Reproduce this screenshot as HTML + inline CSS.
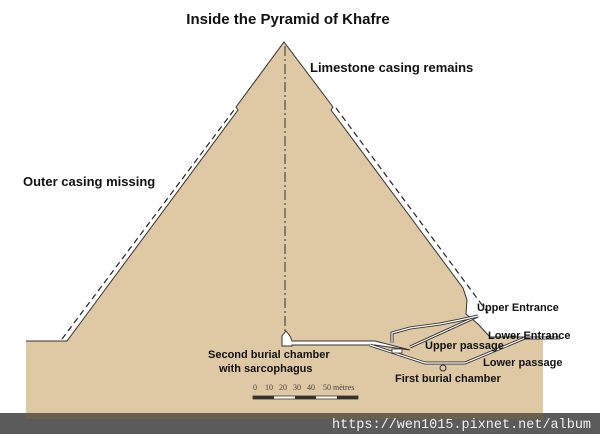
<!DOCTYPE html>
<html><head><meta charset="utf-8"><style>
html,body{margin:0;padding:0;background:#fff;}
svg{display:block}
text{font-family:"Liberation Sans",Arial,sans-serif;font-weight:bold;fill:#111}
</style></head><body>
<svg width="600" height="434" viewBox="0 0 600 434" xmlns="http://www.w3.org/2000/svg">
<rect width="600" height="434" fill="#fff"/>
<path d="M26,341 L67,341 L238,110 L236,107 L284,42 L333,107 L331,110 L463,288 L467,300 L466,314 L478,324 L490,337 L543,337 L543,413 L26,413 Z" fill="#dfc8a4"/>
<path d="M26,341 L67,341 L238,110 L236,107 L284,42 L333,107 L331,110 L463,288 L467,300 L466,314 L478,324 L490,337 L543,337" fill="none" stroke="#333" stroke-width="1"/>
<path d="M62,339 L234,110" fill="none" stroke="#222" stroke-width="1.2" stroke-dasharray="6,4"/>
<path d="M336,108 L488,313" fill="none" stroke="#222" stroke-width="1.2" stroke-dasharray="6,4"/>
<path d="M285,46 L285,332" stroke="#333" stroke-width="1" stroke-dasharray="10,3,2,3"/>
<path d="M282,346 L282,336 L286,331 L290,336 L292,341 L375,341 L410,350 L375,345 L292,345 L292,346 Z" fill="#fff" stroke="#333" stroke-width="1"/>
<path d="M370,345 L425,363 L465,363 L525,338 L560,338" fill="none" stroke="#333" stroke-width="3"/>
<path d="M370,345 L425,363 L465,363 L525,338 L560,338" fill="none" stroke="#fff" stroke-width="1.2"/>
<path d="M410,347 L478,316" fill="none" stroke="#333" stroke-width="3"/>
<path d="M410,347 L478,316" fill="none" stroke="#fff" stroke-width="1.2"/>
<path d="M392,343 L392,333 L410,328 L440,324 L460,320 L478,316" fill="none" stroke="#333" stroke-width="3"/>
<path d="M392,343 L392,333 L410,328 L440,324 L460,320 L478,316" fill="none" stroke="#fff" stroke-width="1.2"/>
<rect x="392" y="349" width="10" height="4" fill="#fff" stroke="#333" stroke-width="0.8"/>
<circle cx="443" cy="368" r="3" fill="none" stroke="#333"/>
<text x="288" y="24" font-size="15" text-anchor="middle">Inside the Pyramid of Khafre</text>
<text x="310" y="72" font-size="13">Limestone casing remains</text>
<text x="23" y="186" font-size="13">Outer casing missing</text>
<text x="477" y="311" font-size="11">Upper Entrance</text>
<text x="488" y="339" font-size="11">Lower Entrance</text>
<text x="425" y="349" font-size="11">Upper passage</text>
<text x="483" y="366" font-size="11">Lower passage</text>
<text x="395" y="382" font-size="11">First burial chamber</text>
<text x="208" y="358" font-size="11">Second burial chamber</text>
<text x="219" y="372" font-size="11">with sarcophagus</text>
<text x="253" y="390" font-size="8" style="font-family:'Liberation Serif',serif;font-weight:normal;fill:#444">0 &#160;&#160;&#160;10 &#160;&#160;20 &#160;&#160;30 &#160;&#160;40 &#160;&#160;&#160;50 mètres</text>
<rect x="253" y="396" width="105" height="3" fill="#fff" stroke="#333" stroke-width="0.8"/>
<rect x="253" y="396" width="21" height="3" fill="#333"/>
<rect x="295" y="396" width="21" height="3" fill="#333"/>
<rect x="337" y="396" width="21" height="3" fill="#333"/>
<rect x="0" y="413" width="600" height="21" fill="#5b5b5b"/>
<rect x="26" y="413" width="517" height="6" fill="#6b5f50"/>
<text x="332" y="428" font-size="14" textLength="259" lengthAdjust="spacingAndGlyphs" style="font-family:'Liberation Mono',monospace;font-weight:normal;fill:#f2f2f2">https://wen1015.pixnet.net/album</text>
</svg>
</body></html>
